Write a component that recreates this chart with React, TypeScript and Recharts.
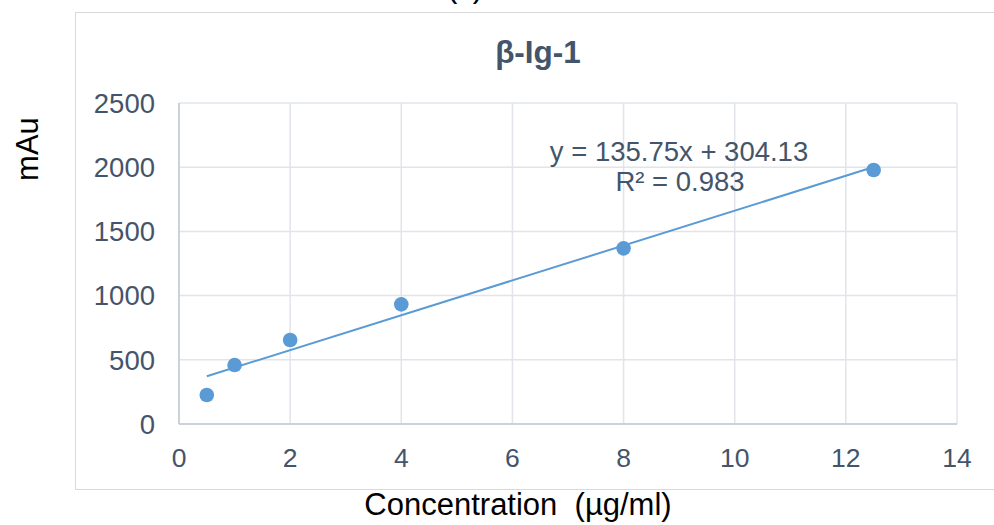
import { CartesianGrid, Scatter, ScatterChart, XAxis, YAxis } from 'recharts';

// concentration (µg/ml) vs response (mAu)
const concentrations = [0.5, 1, 2, 4, 8, 12.5];
const responses = [226, 459, 654, 932, 1368, 1978];

const xTicks = [0, 2, 4, 6, 8, 10, 12, 14];
const yTicks = [0, 500, 1000, 1500, 2000, 2500];

// linear trendline as printed on the chart
const slope = 135.75;
const intercept = 304.13;
const trendX = [0.5, 12.5];

const points = concentrations.map((x, i) => ({ x, y: responses[i] }));
const trend = trendX.map((x) => ({ x, y: slope * x + intercept }));

const FONT = '"Liberation Sans", Arial, sans-serif';
const BLUE = '#5B9BD5';
const INK = '#44546A';

const Dot = (props: any) => (
  <circle cx={props.cx} cy={props.cy} r={7.3} fill={BLUE} />
);

export default function App() {
  return (
    <div
      style={{
        position: 'fixed',
        left: 0,
        top: 0,
        width: 994,
        height: 525,
        background: '#FFFFFF',
        fontFamily: FONT,
        overflow: 'hidden',
      }}
    >
      {/* chart frame */}
      <div
        style={{
          position: 'absolute',
          left: 75,
          top: 12,
          width: 940,
          height: 476,
          border: '1px solid #D9D9D9',
        }}
      />

      <div style={{ position: 'absolute', left: 0, top: 0 }}>
        <ScatterChart
          width={994}
          height={525}
          margin={{ top: 103, right: 37, bottom: 71, left: 119 }}
        >
          <CartesianGrid stroke="#E1E4EA" strokeWidth={1.5} />
          <XAxis
            type="number"
            dataKey="x"
            domain={[0, 14]}
            ticks={xTicks}
            height={30}
            tickSize={0}
            tickMargin={24}
            axisLine={{ stroke: '#C3CAD5', strokeWidth: 1.5 }}
            tick={{ fill: INK, fontSize: 26.5, fontFamily: FONT }}
          />
          <YAxis
            type="number"
            dataKey="y"
            domain={[0, 2500]}
            ticks={yTicks}
            width={60}
            tickSize={0}
            tickMargin={24}
            axisLine={{ stroke: '#C3CAD5', strokeWidth: 1.5 }}
            tick={{ fill: INK, fontSize: 27.5, fontFamily: FONT }}
          />
          <Scatter
            data={trend}
            line={{ stroke: BLUE, strokeWidth: 2 }}
            shape={() => <g />}
            legendType="none"
            isAnimationActive={false}
          />
          <Scatter data={points} shape={Dot} isAnimationActive={false} />
        </ScatterChart>
      </div>

      {/* titles and annotations */}
      <svg
        width={994}
        height={525}
        style={{ position: 'absolute', left: 0, top: 0, pointerEvents: 'none' }}
      >
        <text x={465} y={-3.5} textAnchor="middle" fontSize={31} fill="#000000" fontFamily={FONT}>
          (c)
        </text>
        <text x={538} y={63} textAnchor="middle" fontSize={31.5} fontWeight="bold" fill={INK} fontFamily={FONT}>
          β-Ig-1
        </text>
        <text x={679} y={161} textAnchor="middle" fontSize={27.5} fill={INK} fontFamily={FONT}>
          y = 135.75x + 304.13
        </text>
        <text x={680} y={191} textAnchor="middle" fontSize={27.5} fill={INK} fontFamily={FONT}>
          R² = 0.983
        </text>
        <text
          x={38}
          y={149}
          transform="rotate(-90 38 149)"
          textAnchor="middle"
          fontSize={31}
          fill="#000000"
          fontFamily={FONT}
        >
          mAu
        </text>
        <text x={518} y={515} textAnchor="middle" fontSize={31} fill="#000000" fontFamily={FONT} xmlSpace="preserve">
          Concentration  (µg/ml)
        </text>
      </svg>
    </div>
  );
}
